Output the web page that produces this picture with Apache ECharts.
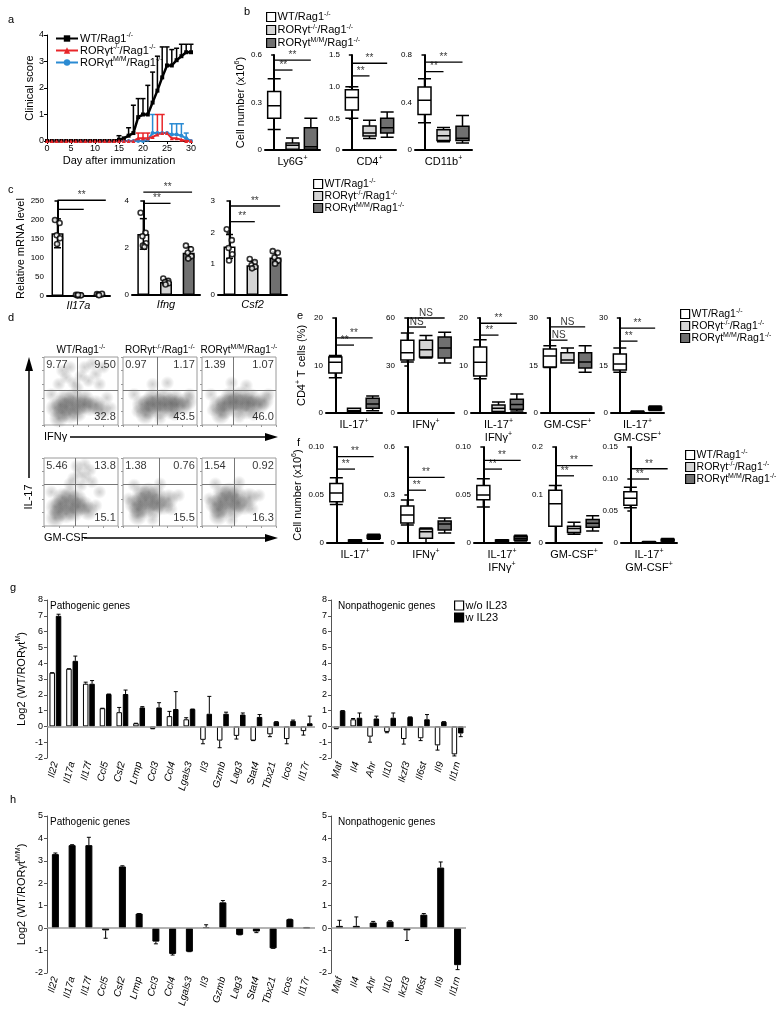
<!DOCTYPE html>
<html>
<head>
<meta charset="utf-8">
<title></title>
<script type="text/javascript" src="https://cdn.jsdelivr.net/npm/echarts/dist/echarts.min.js"></script>
<style>body{margin:0;background:#fff;}</style>
</head>
<body>
<div id="fig" style="width:779px;height:1018px;"></div>
<script type="text/javascript">
var FONT = 'Liberation Sans';

// ---- a: clinical score ----
var days    = [0,1,2,3,4,5,6,7,8,9,10,11,12,13,14,15,16,17,18,19,20,21,22,23,24,25,26,27,28,29,30];
var scoreWT = [0,0,0,0,0,0,0,0,0,0,0,0,0,0,0,0.05,0.1,0.2,0.3,0.9,1.0,1.0,1.45,1.9,2.4,2.85,2.85,3.05,3.2,3.35,3.35];
var errWT   = [0,0,0,0,0,0,0,0,0,0,0,0,0,0,0,0.15,0,0.3,1.05,0.7,0.6,1.1,1.15,1.3,1.15,0.7,0.6,0.45,0.45,0.3,0.3];
var scoreKO = [0,0,0,0,0,0,0,0,0,0,0,0,0,0,0,0,0,0,0,0.1,0.1,0.1,0.15,0.25,0.3,0.3,0.1,0.1,0.05,0,0];
var errKO   = [0,0,0,0,0,0,0,0,0,0,0,0,0,0,0,0,0,0,0,0.2,0.2,0.2,0,0.75,0.7,0,0,0,0,0,0];
var scoreMM = [0,0,0,0,0,0,0,0,0,0,0,0,0,0,0,0,0,0,0,0,0,0.05,0.3,0.3,0.3,0.3,0.25,0.25,0.2,0.1,0];
var errMM   = [0,0,0,0,0,0,0,0,0,0,0,0,0,0,0,0,0,0,0,0,0,0,0.7,0,0,0,0.4,0.4,0.45,0.2,0];

// groups shared by b, c, e, f  (box data: min, q1, median, q3, max)
var groups = ['WT', 'KO', 'MM'];

// ---- b: cell numbers ----
var bLy6g  = [[0.13,0.2,0.28,0.37,0.45],[0,0.005,0.03,0.045,0.076],[0,0.005,0.02,0.14,0.2]];
var bCd4   = [[0.5,0.63,0.83,0.95,1.0],[0.18,0.22,0.27,0.38,0.47],[0.2,0.27,0.35,0.5,0.6]];
var bCd11b = [[0.23,0.3,0.42,0.53,0.6],[0.07,0.08,0.12,0.17,0.19],[0.06,0.08,0.1,0.2,0.29]];

// ---- c: relative mRNA ----
var cIl17aMean = [165, 2, 4],      cIl17aSd = [38, 1, 1.5];
var cIfngMean  = [2.6, 0.55, 1.8], cIfngSd  = [0.65, 0.12, 0.25];
var cCsf2Mean  = [1.55, 0.95, 1.2], cCsf2Sd = [0.38, 0.12, 0.18];
var cIl17aDots = [[200,192,160,152,137],[3,2,1,2,3],[5,4,3,6,2]];
var cIfngDots  = [[3.5,2.65,2.5,2.2,2.1,2.05],[0.7,0.6,0.55,0.5,0.45],[2.1,1.95,1.8,1.65,1.55]];
var cCsf2Dots  = [[2.1,1.75,1.5,1.3,1.1],[1.15,1.05,0.95,0.9,0.85],[1.4,1.35,1.2,1.1,1.0]];
var dotJitter  = [-0.12, 0.1, -0.04, 0.12, -0.02, 0.05];

// ---- d: flow plots (scaled 0..1) ----
var flowTitles = ['WT/Rag1{sup|-/-}', 'RORγt{sup|-/-}/Rag1{sup|-/-}', 'RORγt{sup|M/M}/Rag1{sup|-/-}'];
var flowCore = [
  [[0.15,0.25],[0.22,0.3],[0.3,0.27],[0.38,0.3],[0.46,0.28],[0.54,0.3],[0.62,0.27],[0.7,0.3],[0.25,0.18],[0.35,0.16],[0.45,0.18],[0.28,0.38],[0.4,0.4],[0.55,0.38],[0.2,0.1],[0.78,0.22]],
  [[0.25,0.3],[0.33,0.32],[0.41,0.3],[0.49,0.32],[0.57,0.3],[0.65,0.32],[0.73,0.3],[0.81,0.28],[0.35,0.22],[0.5,0.22],[0.65,0.22],[0.4,0.4],[0.55,0.4],[0.7,0.38],[0.3,0.15],[0.87,0.35]],
  [[0.22,0.3],[0.3,0.32],[0.38,0.33],[0.46,0.34],[0.54,0.32],[0.62,0.33],[0.7,0.3],[0.78,0.3],[0.3,0.22],[0.45,0.24],[0.6,0.22],[0.38,0.42],[0.52,0.43],[0.66,0.4],[0.25,0.15],[0.84,0.36]],
  [[0.15,0.28],[0.22,0.33],[0.3,0.3],[0.38,0.32],[0.46,0.28],[0.54,0.3],[0.2,0.2],[0.3,0.18],[0.4,0.2],[0.25,0.42],[0.35,0.45],[0.45,0.4],[0.15,0.12],[0.6,0.22]],
  [[0.15,0.32],[0.23,0.36],[0.31,0.38],[0.39,0.36],[0.47,0.34],[0.55,0.3],[0.2,0.24],[0.3,0.25],[0.42,0.25],[0.25,0.48],[0.35,0.5],[0.45,0.46],[0.2,0.15],[0.62,0.4]],
  [[0.17,0.32],[0.25,0.36],[0.33,0.38],[0.41,0.37],[0.49,0.34],[0.57,0.3],[0.22,0.24],[0.32,0.25],[0.44,0.25],[0.27,0.48],[0.37,0.5],[0.47,0.46],[0.22,0.15],[0.64,0.42]]
];
var flowSparse = [
  [[0.2,0.6],[0.3,0.7],[0.4,0.62],[0.5,0.72],[0.6,0.65],[0.7,0.75],[0.35,0.85],[0.55,0.85],[0.75,0.6],[0.85,0.4],[0.1,0.45],[0.8,0.85],[0.25,0.8],[0.65,0.9],[0.45,0.55],[0.9,0.25]],
  [[0.4,0.6],[0.6,0.62],[0.15,0.45],[0.9,0.45],[0.7,0.15],[0.5,0.1],[0.2,0.2]],
  [[0.4,0.62],[0.6,0.58],[0.12,0.45],[0.9,0.45],[0.7,0.15],[0.5,0.12],[0.15,0.22]],
  [[0.4,0.7],[0.48,0.78],[0.56,0.72],[0.44,0.88],[0.55,0.9],[0.62,0.82],[0.35,0.62],[0.65,0.65],[0.7,0.3],[0.75,0.5],[0.1,0.5],[0.5,0.6]],
  [[0.15,0.6],[0.5,0.62],[0.65,0.25],[0.75,0.45],[0.08,0.4],[0.4,0.1]],
  [[0.18,0.62],[0.5,0.64],[0.68,0.25],[0.77,0.45],[0.1,0.4],[0.4,0.1]]
];
var flowGateX = [0.45, 0.46, 0.42, 0.42, 0.49, 0.44];
var flowGateY = [0.51, 0.51, 0.51, 0.62, 0.62, 0.62];
var flowStats = [['9.77','9.50','32.8'],['0.97','1.17','43.5'],['1.39','1.07','46.0'],
                 ['5.46','13.8','15.1'],['1.38','0.76','15.5'],['1.54','0.92','16.3']];

// ---- e: CD4+ T cells (%) ----
var eIl17   = [[7.4,8.4,10.7,11.8,12.1],[0.1,0.2,0.5,1.0,1.0],[0.5,1.0,1.9,3.1,3.6]];
var eIfng   = [[32.2,33.5,38,46,50.5],[34.7,35.4,40,46,49],[31.6,34.7,41,48,51]];
var eIl17If = [[7.2,7.8,10.7,13.9,15.4],[0,0.3,1.0,1.7,2.3],[0.4,0.8,1.8,2.9,4]];
var eGmcsf  = [[14.4,14.5,18,20.2,21.2],[15.8,15.8,16.7,19,20.5],[12.9,14.2,16.1,19,21.2]];
var eIl17Gm = [[12.9,13.6,15.5,18.6,20.5],[0.1,0.2,0.3,0.5,0.6],[0.8,1.0,1.4,1.9,2.2]];

// ---- f: cell number ----
var fIl17   = [[0.04,0.043,0.052,0.062,0.068],[0.001,0.0015,0.002,0.003,0.0035],[0.004,0.005,0.0065,0.008,0.009]];
var fIfng   = [[0.113,0.125,0.175,0.231,0.269],[0,0.03,0.07,0.0875,0.094],[0.0625,0.081,0.119,0.1375,0.156]];
var fIl17If = [[0.0375,0.045,0.05,0.06,0.067],[0.001,0.0015,0.002,0.003,0.0035],[0.002,0.003,0.005,0.007,0.008]];
var fGmcsf  = [[0,0.035,0.082,0.11,0.12],[0.018,0.022,0.03,0.035,0.043],[0.025,0.033,0.041,0.049,0.057]];
var fIl17Gm = [[0.055,0.059,0.07,0.08,0.087],[0.0005,0.001,0.0015,0.002,0.0025],[0.002,0.003,0.004,0.006,0.007]];

// ---- g / h: log2 ratios ----
var pathoGenes    = ['Il22','Il17a','Il17f','Ccl5','Csf2','Lrmp','Ccl3','Ccl4','Lgals3','Il3','Gzmb','Lag3','Stat4','Tbx21','Icos','Il17r'];
var nonpathoGenes = ['Maf','Il4','Ahr','Il10','Ikzf3','Il6st','Il9','Il1rn'];
var gPathoNo    = [3.4,3.65,2.7,1.15,0.9,0.2,-0.15,0.65,0.45,-0.85,-0.9,-0.6,-0.9,-0.5,-0.8,-0.3];
var gPathoNoErr = [0,0,0.1,0,0.3,0,0,0.3,0.1,0.25,0.45,0.2,0,0.15,0.3,0.25];
var gPathoW     = [7.0,4.15,2.7,2.05,2.05,1.2,1.2,1.1,1.1,0.8,0.8,0.75,0.6,0.3,0.35,0.2];
var gPathoWErr  = [0.1,0.3,0.2,0,0.25,0.05,0.3,1.1,0,1.1,0.1,0.1,0.15,0,0.05,0.45];
var gNonNo      = [-0.15,0.45,-0.65,-0.35,-0.8,-0.75,-1.2,-1.77];
var gNonNoErr   = [0,0.05,0.35,0.05,0.32,0.15,0.3,0.1];
var gNonW       = [1.0,0.55,0.5,0.55,0.6,0.45,0.3,-0.45];
var gNonWErr    = [0,0.3,0.15,0.3,0,0.3,0,0.2];
var hPatho      = [3.3,3.7,3.7,-0.1,2.75,0.65,-0.6,-1.15,-1.05,0.05,1.15,-0.3,-0.15,-0.9,0.4,0.03];
var hPathoErr   = [0.05,0.02,0.35,0.35,0.03,0,0.1,0.05,0,0.1,0.08,0,0.05,0,0,0];
var hNon        = [0.1,0.1,0.25,0.3,-0.1,0.6,2.7,-1.65];
var hNonErr     = [0.25,0.4,0.05,0.03,0.45,0.05,0.25,0.2];

// ------------------------------------------------------------------
var groupFill = ['#ffffff', '#d4d4d4', '#707070'];
var groupText = {
  WT: 'WT/Rag1{sup|-/-}',
  KO: 'RORγt{sup|-/-}/Rag1{sup|-/-}',
  MM: 'RORγt{sup|M/M}/Rag1{sup|-/-}'
};
var supRich = {sup: {fontFamily: FONT, fontSize: 7, color: '#000', padding: [0, 0, 6, 0]}};

var grids = [], xAxes = [], yAxes = [], series = [], legends = [], graphics = [];

function addGrid(l, t, w, h, extra) {
  var g = {left: l, top: t, width: w, height: h, outerBoundsMode: 'none', containLabel: false};
  for (var k in (extra || {})) g[k] = extra[k];
  grids.push(g);
  return grids.length - 1;
}
function txt(s, x, y, size, align, vAlign, rot) {
  graphics.push({type: 'text', x: x, y: y, rotation: rot || 0, silent: true,
    style: {text: s, fontFamily: FONT, fontSize: size, fill: '#000',
      align: align || 'left', textAlign: align || 'left', verticalAlign: vAlign || 'middle', textVerticalAlign: vAlign || 'middle',
      rich: {sup: {fontFamily: FONT, fontSize: 7, fill: '#000', color: '#000', padding: [0, 0, 6, 0]}}}});
}
function nameStyle() { return {fontFamily: FONT, fontSize: 11, color: '#000', rich: supRich}; }

function errSym(cap) {
  return function (params, api) {
    var x = api.value(0), y = api.value(1), e = api.value(2);
    var p1 = api.coord([x, y + e]), p2 = api.coord([x, y - e]);
    var st = {stroke: '#000', lineWidth: 1.5};
    return {type: 'group', children: [
      {type: 'line', shape: {x1: p1[0], y1: p1[1], x2: p2[0], y2: p2[1]}, style: st},
      {type: 'line', shape: {x1: p1[0] - cap, y1: p1[1], x2: p1[0] + cap, y2: p1[1]}, style: st},
      {type: 'line', shape: {x1: p2[0] - cap, y1: p2[1], x2: p2[0] + cap, y2: p2[1]}, style: st}]};
  };
}
function errUp(color, cap) {
  return function (params, api) {
    var x = api.value(0), y = api.value(1), e = api.value(2);
    var p1 = api.coord([x, y]), p2 = api.coord([x, y + e]);
    var st = {stroke: color, lineWidth: 1.5};
    return {type: 'group', children: [
      {type: 'line', shape: {x1: p1[0], y1: p1[1], x2: p2[0], y2: p2[1]}, style: st},
      {type: 'line', shape: {x1: p2[0] - cap, y1: p2[1], x2: p2[0] + cap, y2: p2[1]}, style: st}]};
  };
}
function errSigned(offset, cap) {
  return function (params, api) {
    var i = api.value(0), y = api.value(1), e = api.value(2);
    var s = y < 0 ? -1 : 1;
    var p1 = api.coord([i, y]), p2 = api.coord([i, y + s * e]);
    var x = p1[0] + offset;
    var st = {stroke: '#000', lineWidth: 1};
    return {type: 'group', children: [
      {type: 'line', shape: {x1: x, y1: p1[1], x2: x, y2: p2[1]}, style: st},
      {type: 'line', shape: {x1: x - cap, y1: p2[1], x2: x + cap, y2: p2[1]}, style: st}]};
  };
}

// ---------- panel a ----------
var gA = addGrid(47, 35, 144, 106);
xAxes.push({gridIndex: gA, type: 'value', min: 0, max: 30, interval: 5,
  axisLine: {lineStyle: {color: '#000', width: 1}}, axisTick: {length: 3, lineStyle: {color: '#000'}},
  axisLabel: {fontFamily: FONT, fontSize: 9, color: '#000', margin: 3}, splitLine: {show: false},
  name: 'Day after immunization', nameLocation: 'middle', nameGap: 14, nameTextStyle: nameStyle()});
yAxes.push({gridIndex: gA, type: 'value', min: 0, max: 4, interval: 1,
  axisLine: {show: true, lineStyle: {color: '#000', width: 1}}, axisTick: {show: true, length: 3, lineStyle: {color: '#000'}},
  axisLabel: {fontFamily: FONT, fontSize: 9, color: '#000', margin: 3}, splitLine: {show: false},
  name: 'Clinical score', nameLocation: 'middle', nameGap: 12, nameTextStyle: nameStyle()});
var aLines = [
  {name: 'aMM', y: scoreMM, e: errMM, color: '#2b8bd3', symbol: 'circle', w: 2},
  {name: 'aWT', y: scoreWT, e: errWT, color: '#000000', symbol: 'rect', w: 2.5},
  {name: 'aKO', y: scoreKO, e: errKO, color: '#e8262a', symbol: 'triangle', w: 2}
];
aLines.forEach(function (s) {
  var errData = [];
  days.forEach(function (d, i) { if (s.e[i] > 0) errData.push([d, s.y[i], s.e[i]]); });
  series.push({type: 'custom', xAxisIndex: xAxes.length - 1, yAxisIndex: yAxes.length - 1,
    renderItem: errUp(s.color, 2.5), data: errData, silent: true});
  series.push({type: 'line', name: s.name, xAxisIndex: xAxes.length - 1, yAxisIndex: yAxes.length - 1,
    data: days.map(function (d, i) { return [d, s.y[i]]; }),
    symbol: s.symbol, symbolSize: 4, showSymbol: true, color: s.color,
    itemStyle: {color: s.color}, lineStyle: {color: s.color, width: s.w}});
});
legends.push({left: 50, top: 27, orient: 'vertical', itemGap: 0, itemWidth: 22, itemHeight: 8,
  selectedMode: false, data: ['aWT', 'aKO', 'aMM'],
  formatter: function (n) { return groupText[n.slice(1)]; },
  textStyle: {fontFamily: FONT, fontSize: 11, color: '#000', padding: [0, 0, 0, -3], rich: supRich}});

// ---------- box / bar helpers ----------
function catX(g, name, gap) {
  xAxes.push({gridIndex: g, type: 'category', data: groups,
    axisLine: {lineStyle: {color: '#000', width: 2}}, axisTick: {show: false}, axisLabel: {show: false},
    name: name, nameLocation: 'middle', nameGap: gap || 5, nameTextStyle: nameStyle()});
  return xAxes.length - 1;
}
function annoX(g) {
  xAxes.push({gridIndex: g, type: 'value', min: -0.5, max: 2.5, show: false});
  return xAxes.length - 1;
}
function boldY(g, max, step, fmt, name, gap) {
  yAxes.push({gridIndex: g, type: 'value', min: 0, max: max, interval: step,
    axisLine: {show: true, lineStyle: {color: '#000', width: 2}},
    axisTick: {show: true, length: 3, lineStyle: {color: '#000', width: 1.5}},
    axisLabel: {fontFamily: FONT, fontSize: 8, color: '#000', margin: 3, formatter: fmt},
    splitLine: {show: false},
    name: name || '', nameLocation: 'middle', nameGap: gap || 20, nameTextStyle: nameStyle()});
  return yAxes.length - 1;
}
function addSig(xv, yi, sig) {
  sig.forEach(function (s) {
    series.push({type: 'line', xAxisIndex: xv, yAxisIndex: yi, data: [[s[0], s[2]], [s[1], s[2]]],
      symbol: 'none', clip: false, silent: true, lineStyle: {color: '#000', width: 1.3}});
    if (s[3]) series.push({type: 'scatter', xAxisIndex: xv, yAxisIndex: yi, data: [[(s[0] + s[1]) / 2, s[2]]],
      symbolSize: 0, clip: false, silent: true,
      label: {show: true, position: 'top', distance: 0, formatter: s[3], fontFamily: FONT, fontSize: 10, color: '#000'}});
  });
}
function fmtFixed(d) { return function (v) { return v === 0 ? '0' : v.toFixed(d); }; }

function boxPanel(rect, boxes, max, step, fmt, xname, sig, yname, ygap, xgap) {
  var g = addGrid(rect[0], rect[1], rect[2], rect[3]);
  var xi = catX(g, xname, xgap), xv = annoX(g), yi = boldY(g, max, step, fmt, yname, ygap);
  series.push({type: 'boxplot', xAxisIndex: xi, yAxisIndex: yi, boxWidth: [13, 13],
    itemStyle: {borderColor: '#000', borderWidth: 1.5},
    data: boxes.map(function (b, i) { return {value: b, itemStyle: {color: groupFill[i]}}; })});
  addSig(xv, yi, sig);
  return {xi: xi, yi: yi};
}
function barPanel(rect, mean, sd, dots, max, step, xname, sig, yname, ygap) {
  var g = addGrid(rect[0], rect[1], rect[2], rect[3]);
  var xi = xAxes.length;
  xAxes.push({gridIndex: g, type: 'category', data: groups,
    axisLine: {lineStyle: {color: '#000', width: 2}}, axisTick: {show: false}, axisLabel: {show: false},
    name: xname, nameLocation: 'middle', nameGap: 4,
    nameTextStyle: {fontFamily: FONT, fontSize: 11, fontStyle: 'italic', color: '#000'}});
  var xv = annoX(g), yi = boldY(g, max, step, null, yname, ygap);
  series.push({type: 'bar', xAxisIndex: xi, yAxisIndex: yi, barWidth: 12,
    itemStyle: {borderColor: '#000', borderWidth: 1.5},
    data: mean.map(function (v, i) { return {value: v, itemStyle: {color: groupFill[i]}}; })});
  series.push({type: 'custom', xAxisIndex: xv, yAxisIndex: yi, renderItem: errSym(3.5), silent: true, z: 3,
    data: mean.map(function (v, i) { return [i, v, sd[i]]; })});
  var pts = [];
  dots.forEach(function (list, i) { list.forEach(function (v, k) { pts.push([i + dotJitter[k], v]); }); });
  series.push({type: 'scatter', xAxisIndex: xv, yAxisIndex: yi, data: pts, symbol: 'circle', symbolSize: 5, z: 4,
    itemStyle: {color: '#fff', borderColor: '#000', borderWidth: 1.6}});
  addSig(xv, yi, sig);
}
function groupLegend(left, top, size, gap, lh) {
  legends.push({left: left, top: top, orient: 'vertical', data: groups, icon: 'rect',
    itemWidth: 9, itemHeight: 9, itemGap: gap, selectedMode: false, padding: 0,
    formatter: function (n) { return groupText[n]; },
    itemStyle: {borderColor: '#000', borderWidth: 1.2},
    textStyle: {fontFamily: FONT, fontSize: size, color: '#000', padding: [0, 0, 0, -3], lineHeight: lh,
      rich: {sup: {fontFamily: FONT, fontSize: 7, color: '#000', padding: [0, 0, 5, 0], lineHeight: lh}}}});
}

// ---------- panel b ----------
var bFirst = boxPanel([265, 55, 55, 95], bLy6g, 0.6, 0.3, fmtFixed(1), 'Ly6G{sup|+}',
  [[0, 1, 0.505, '**'], [0, 2, 0.568, '**']], 'Cell number (x10{sup|6})', 18);
boxPanel([343, 55, 53, 95], bCd4, 1.5, 0.5, fmtFixed(1), 'CD4{sup|+}', [[0, 1, 1.17, '**'], [0, 2, 1.37, '**']]);
boxPanel([415, 55, 57, 95], bCd11b, 0.8, 0.4, fmtFixed(1), 'CD11b{sup|+}', [[0, 1, 0.66, '**'], [0, 2, 0.74, '**']]);
groups.forEach(function (n, i) {
  series.push({type: 'bar', name: n, xAxisIndex: bFirst.xi, yAxisIndex: bFirst.yi, data: [],
    itemStyle: {color: groupFill[i], borderColor: '#000', borderWidth: 1.2}});
});
groupLegend(266, 11, 11, 1, 12);

// ---------- panel c ----------
barPanel([47, 201, 63, 95], cIl17aMean, cIl17aSd, cIl17aDots, 250, 50, 'Il17a',
  [[0, 1.25, 228, ''], [0, 2.3, 252, '**']], 'Relative mRNA level', 17);
barPanel([132, 201, 68, 94], cIfngMean, cIfngSd, cIfngDots, 4, 2, 'Ifng',
  [[0, 1.2, 3.9, '**'], [0, 2.15, 4.38, '**']]);
barPanel([218, 201, 69, 94], cCsf2Mean, cCsf2Sd, cCsf2Dots, 3, 1, 'Csf2',
  [[0, 1.1, 2.34, '**'], [0, 2.2, 2.84, '**']]);
groupLegend(313, 178, 10.5, 0, 10);

// ---------- panel d ----------
function blob(alpha) {
  return {type: 'radial', x: 0.5, y: 0.5, r: 0.5, colorStops: [
    {offset: 0, color: 'rgba(55,55,55,' + alpha + ')'}, {offset: 0.55, color: 'rgba(70,70,70,' + (alpha * 0.55) + ')'},
    {offset: 1, color: 'rgba(90,90,90,0)'}]};
}
var flowLeft = [44, 123, 202], flowTop = [357, 458], flowW = 74, flowH = 68;
flowCore.forEach(function (core, p) {
  var r = Math.floor(p / 3), c = p % 3;
  var g = addGrid(flowLeft[c], flowTop[r], flowW, flowH, {show: true, borderColor: '#9a9a9a', borderWidth: 1});
  var tick = {show: true, length: 2, lineStyle: {color: '#999'}};
  xAxes.push({gridIndex: g, type: 'value', min: 0, max: 1, interval: 0.2, axisLine: {show: false},
    axisTick: tick, axisLabel: {show: false}, splitLine: {show: false}});
  yAxes.push({gridIndex: g, type: 'value', min: 0, max: 1, interval: 0.2, axisLine: {show: false},
    axisTick: tick, axisLabel: {show: false}, splitLine: {show: false}});
  var xi = xAxes.length - 1, yi = yAxes.length - 1;
  series.push({type: 'scatter', xAxisIndex: xi, yAxisIndex: yi, data: flowSparse[p], symbolSize: 14, silent: true,
    itemStyle: {color: blob(0.3)}});
  series.push({type: 'scatter', xAxisIndex: xi, yAxisIndex: yi, data: core, symbolSize: 20, silent: true,
    itemStyle: {color: blob(0.5)},
    markLine: {silent: true, symbol: 'none', label: {show: false}, animation: false,
      lineStyle: {color: '#777', width: 1, type: 'solid'},
      data: [{xAxis: flowGateX[p]}, {yAxis: flowGateY[p]}]}});
  var st = flowStats[p];
  series.push({type: 'scatter', xAxisIndex: xi, yAxisIndex: yi, symbolSize: 0, silent: true, z: 5,
    label: {show: true, position: 'inside', fontFamily: FONT, fontSize: 11, color: '#000'},
    data: [
      {value: [0.03, 0.97], label: {formatter: st[0], align: 'left', verticalAlign: 'top'}},
      {value: [0.97, 0.97], label: {formatter: st[1], align: 'right', verticalAlign: 'top'}},
      {value: [0.97, 0.03], label: {formatter: st[2], align: 'right', verticalAlign: 'bottom'}}]});
  if (r === 0) txt(flowTitles[c], flowLeft[c] + flowW / 2, 350, 10, 'center', 'middle');
});

// ---------- panel e ----------
var eNames = ['IL-17{sup|+}', 'IFNγ{sup|+}', 'IL-17{sup|+}\nIFNγ{sup|+}', 'GM-CSF{sup|+}', 'IL-17{sup|+}\nGM-CSF{sup|+}'];
var fmtInt = function (v) { return String(v); };
boxPanel([326, 318, 56, 95], eIl17, 20, 10, fmtInt, eNames[0], [[0, 1, 14.3, '**'], [0, 2, 15.8, '**']],
  'CD4{sup|+} T cells (%)', 18);
boxPanel([398, 318, 56, 95], eIfng, 60, 30, fmtInt, eNames[1], [[0, 1, 54.3, 'NS'], [0, 2, 60, 'NS']]);
boxPanel([471, 318, 55, 95], eIl17If, 20, 10, fmtInt, eNames[2], [[0, 1, 16.4, '**'], [0, 2, 18.9, '**']]);
boxPanel([541, 318, 53, 95], eGmcsf, 30, 15, fmtInt, eNames[3], [[0, 1, 23, 'NS'], [0, 2, 27.2, 'NS']]);
boxPanel([611, 318, 53, 95], eIl17Gm, 30, 15, fmtInt, eNames[4], [[0, 1, 22.7, '**'], [0, 2, 26.8, '**']]);
groupLegend(680, 308, 10.5, 0, 10);

// ---------- panel f ----------
boxPanel([327, 447, 56, 96], fIl17, 0.1, 0.05, fmtFixed(2), eNames[0], [[0, 1, 0.077, '**'], [0, 2, 0.09, '**']],
  'Cell number (x10{sup|6})', 23);
boxPanel([398, 447, 56, 96], fIfng, 0.6, 0.3, fmtFixed(1), eNames[1], [[0, 1, 0.33, '**'], [0, 2, 0.41, '**']]);
boxPanel([474, 447, 56, 96], fIl17If, 0.1, 0.05, fmtFixed(2), eNames[2], [[0, 1, 0.077, '**'], [0, 2, 0.086, '**']]);
boxPanel([546, 447, 56, 96], fGmcsf, 0.2, 0.1, fmtFixed(1), eNames[3], [[0, 1, 0.14, '**'], [0, 2, 0.161, '**']]);
boxPanel([621, 447, 56, 96], fIl17Gm, 0.15, 0.05, fmtFixed(2), eNames[4], [[0, 1, 0.1, '**'], [0, 2, 0.116, '**']]);
groupLegend(685, 449, 10.5, 0, 10);

// ---------- panels g, h ----------
function genePanel(rect, genes, bars, ymin, ymax, yname) {
  var g = addGrid(rect[0], rect[1], rect[2], rect[3]);
  xAxes.push({gridIndex: g, type: 'category', data: genes, axisLine: {show: false}, axisTick: {show: false},
    axisLabel: {interval: 0, rotate: 75, fontFamily: FONT, fontSize: 10, fontStyle: 'italic', color: '#000', margin: 4}});
  yAxes.push({gridIndex: g, type: 'value', min: ymin, max: ymax, interval: 1,
    axisLine: {show: true, lineStyle: {color: '#555', width: 1}},
    axisTick: {show: true, length: 3, lineStyle: {color: '#555'}},
    axisLabel: {fontFamily: FONT, fontSize: 9, color: '#000', margin: 4}, splitLine: {show: false},
    name: yname || '', nameLocation: 'middle', nameGap: 19, nameTextStyle: nameStyle()});
  var xi = xAxes.length - 1, yi = yAxes.length - 1;
  bars.forEach(function (b, k) {
    var s = {type: 'bar', name: b.name, xAxisIndex: xi, yAxisIndex: yi, data: b.v, barWidth: b.w, barGap: '15%',
      itemStyle: {color: b.color, borderColor: '#000', borderWidth: 1}};
    if (k === bars.length - 1) s.markLine = {silent: true, symbol: 'none', label: {show: false}, animation: false,
      lineStyle: {color: '#9a9a9a', width: 1.5, type: 'solid'}, data: [{yAxis: 0}]};
    series.push(s);
    series.push({type: 'custom', xAxisIndex: xi, yAxisIndex: yi, renderItem: errSigned(b.off, 2), silent: true, z: 3,
      data: b.v.map(function (v, i) { return [i, v, b.e[i]]; })});
  });
}
var gY = 'Log2 (WT/RORγt{sup|M})', hY = 'Log2 (WT/RORγt{sup|M/M})';
genePanel([47, 600, 268, 158], pathoGenes, [
  {name: 'w/o IL23', v: gPathoNo, e: gPathoNoErr, color: '#fff', w: 5.5, off: -3.2},
  {name: 'w IL23', v: gPathoW, e: gPathoWErr, color: '#000', w: 5.5, off: 3.2}], -2, 8, gY);
genePanel([331, 600, 135, 158], nonpathoGenes, [
  {name: 'w/o IL23', v: gNonNo, e: gNonNoErr, color: '#fff', w: 5.5, off: -3.2},
  {name: 'w IL23', v: gNonW, e: gNonWErr, color: '#000', w: 5.5, off: 3.2}], -2, 8);
legends.push({left: 454, top: 600, orient: 'vertical', data: ['w/o IL23', 'w IL23'], icon: 'rect',
  itemWidth: 9, itemHeight: 9, itemGap: 1, selectedMode: false, padding: 0,
  itemStyle: {borderColor: '#000', borderWidth: 1.2},
  textStyle: {fontFamily: FONT, fontSize: 11, color: '#000', padding: [0, 0, 0, -3], lineHeight: 11}});
genePanel([47, 816, 268, 157], pathoGenes, [
  {name: 'hP', v: hPatho, e: hPathoErr, color: '#000', w: 7, off: 0}], -2, 5, hY);
genePanel([331, 816, 135, 157], nonpathoGenes, [
  {name: 'hN', v: hNon, e: hNonErr, color: '#000', w: 7, off: 0}], -2, 5);

// ---------- texts, letters, arrows ----------
[['a', 8, 20], ['b', 244, 12], ['c', 8, 190], ['d', 8, 318], ['e', 297, 316],
 ['f', 297, 443], ['g', 10, 588], ['h', 10, 800]].forEach(function (l) { txt(l[0], l[1], l[2], 11, 'left', 'middle'); });
txt('Pathogenic genes', 50, 606, 10, 'left', 'middle');
txt('Nonpathogenic genes', 338, 606, 10, 'left', 'middle');
txt('Pathogenic genes', 50, 822, 10, 'left', 'middle');
txt('Nonpathogenic genes', 338, 822, 10, 'left', 'middle');
txt('IFNγ', 44, 437, 11, 'left', 'middle');
txt('GM-CSF', 44, 538, 11, 'left', 'middle');
txt('IL-17', 29, 497, 11, 'center', 'middle', Math.PI / 2);
function arrowH(x1, x2, y) {
  graphics.push({type: 'line', silent: true, shape: {x1: x1, y1: y, x2: x2 - 8, y2: y}, style: {stroke: '#000', lineWidth: 1.5}});
  graphics.push({type: 'polygon', silent: true, shape: {points: [[x2 - 13, y - 4], [x2, y], [x2 - 13, y + 4]]}, style: {fill: '#000'}});
}
arrowH(70, 278, 437);
arrowH(84, 278, 538);
graphics.push({type: 'line', silent: true, shape: {x1: 29, y1: 478, x2: 29, y2: 368}, style: {stroke: '#000', lineWidth: 1.5}});
graphics.push({type: 'polygon', silent: true, shape: {points: [[25, 371], [29, 357], [33, 371]]}, style: {fill: '#000'}});

var chart = echarts.init(document.getElementById('fig'), null, {renderer: 'canvas'});
chart.setOption({
  animation: false,
  backgroundColor: '#fff',
  textStyle: {fontFamily: FONT},
  grid: grids, xAxis: xAxes, yAxis: yAxes, legend: legends, series: series, graphic: graphics
});
</script>
</body>
</html>
